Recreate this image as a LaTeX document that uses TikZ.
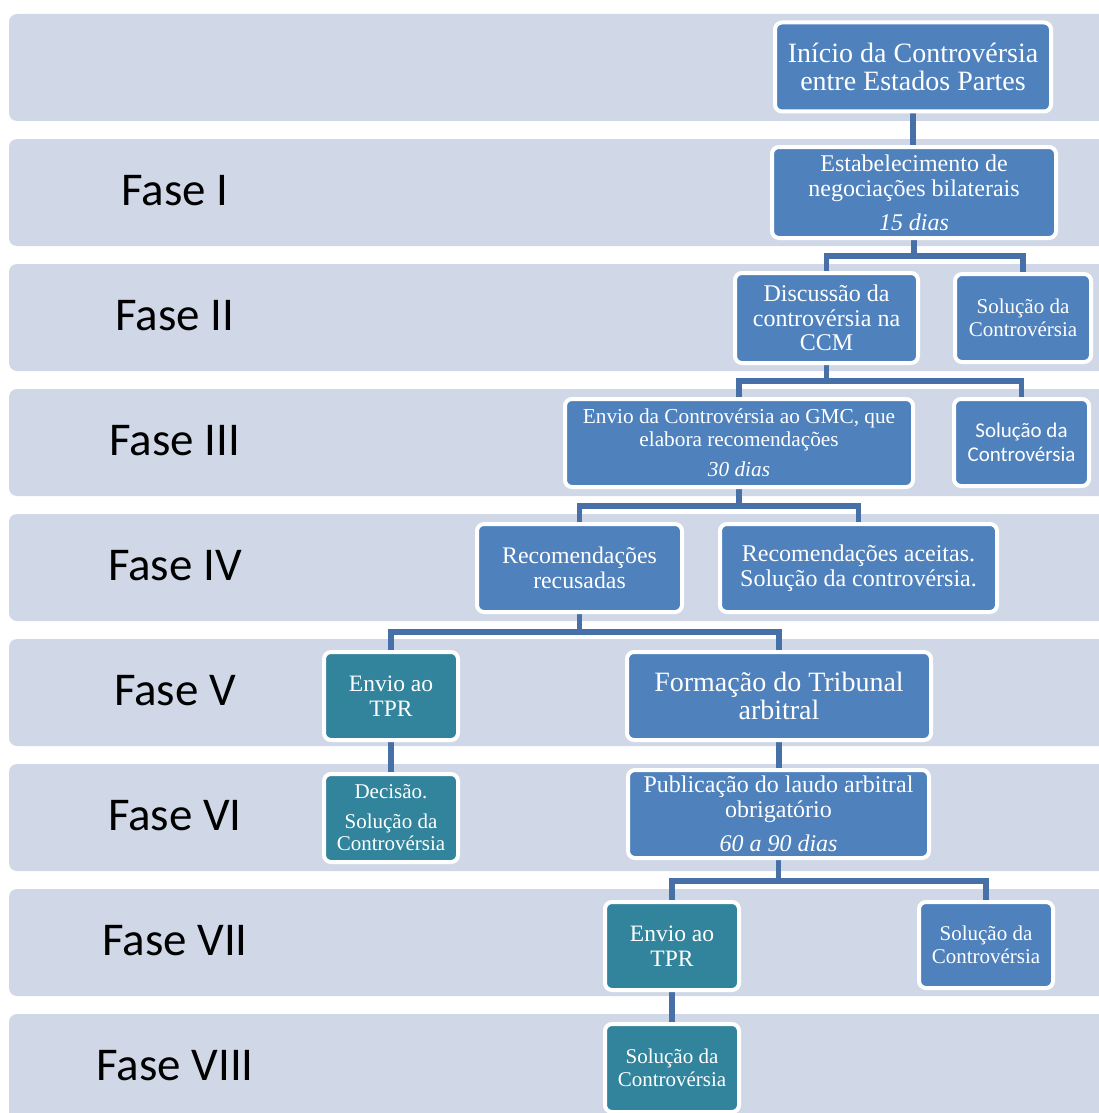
\documentclass[tikz,border=0pt]{standalone}
\usepackage{fontspec}
\setmainfont{Liberation Serif}
\newfontfamily\labelfont{Carlito}
\usetikzlibrary{backgrounds}

\definecolor{bandfill}{RGB}{208,216,232}
\definecolor{stepblue}{RGB}{79,129,189}
\definecolor{stepteal}{RGB}{49,132,155}
\definecolor{linkblue}{RGB}{72,112,168}

\pgfdeclarelayer{bands}
\pgfsetlayers{bands,background,main}

\begin{document}
\begin{tikzpicture}[x=1pt,y=-1pt,
  band/.style={fill=bandfill, rounded corners=8pt},
  faselabel/.style={font=\labelfont\fontsize{47}{50}\selectfont, text=black, inner sep=0pt},
  box/.style={fill=stepblue, draw=white, line width=4pt, rounded corners=7pt,
              text=white, align=center, inner sep=0pt},
  tealbox/.style={box, fill=stepteal},
  sz/.style 2 args={font=\fontsize{#1}{#2}\selectfont},
  conn/.style={draw=linkblue, line width=5.5pt}
]
\useasboundingbox (0,0) rectangle (1099,1113);

% phase bands
\begin{pgfonlayer}{bands}
  \foreach \i in {0,...,8}
    \fill[band] (9,{14+125*\i}) rectangle (1130,{121+125*\i});
\end{pgfonlayer}

% phase labels
\node[faselabel] (f1) at (175,191) {Fase I};
\node[faselabel] (f2) at (175,316) {Fase II};
\node[faselabel] (f3) at (175,441) {Fase III};
\node[faselabel] (f4) at (175,566) {Fase IV};
\node[faselabel] (f5) at (175,691) {Fase V};
\node[faselabel] (f6) at (175,816) {Fase VI};
\node[faselabel] (f7) at (175,941) {Fase VII};
\node[faselabel] (f8) at (175,1066) {Fase VIII};

% steps
\node[box, sz={28}{28}, minimum width=276pt, minimum height=89pt] (inicio) at (913,67)
  {Início da Controvérsia\\entre Estados Partes};
\node[box, sz={24}{25}, minimum width=284pt, minimum height=91pt] (estab) at (914,192.5)
  {Estabelecimento de\\negociações bilaterais\\[9pt]\textit{15 dias}};
\node[box, sz={24}{24.5}, minimum width=183pt, minimum height=90pt] (disc) at (826.5,318)
  {Discussão da\\controvérsia na\\CCM};
\node[box, sz={21}{23}, minimum width=136pt, minimum height=88pt] (sol2) at (1023,318)
  {Solução da\\Controvérsia};
\node[box, sz={21.3}{23}, minimum width=348pt, minimum height=88pt] (gmc) at (739,443)
  {Envio da Controvérsia ao GMC, que\\elabora recomendações\\[7pt]\textit{30 dias}};
\node[box, font=\labelfont\fontsize{21}{24}\selectfont, minimum width=135pt, minimum height=87pt] (sol3) at (1021.5,442.5)
  {Solução da\\Controvérsia};
\node[box, sz={23.8}{25}, minimum width=205pt, minimum height=88pt] (recus) at (579.5,568)
  {Recomendações\\recusadas};
\node[box, sz={24}{25}, minimum width=277pt, minimum height=88pt] (aceit) at (858.5,568)
  {Recomendações aceitas.\\Solução da controvérsia.};
\node[tealbox, sz={23.5}{25}, minimum width=134pt, minimum height=88pt] (tpra) at (391,696)
  {Envio ao\\TPR};
\node[box, sz={28}{28}, minimum width=304pt, minimum height=88pt] (form) at (779,696)
  {Formação do Tribunal\\arbitral};
\node[tealbox, sz={21}{22}, minimum width=134pt, minimum height=88pt] (decis) at (391,818)
  {Decisão.\\[8pt]Solução da\\Controvérsia};
\node[box, sz={24}{25}, minimum width=301pt, minimum height=88pt] (publ) at (778.5,814)
  {Publicação do laudo arbitral\\obrigatório\\[9pt]\textit{60 a 90 dias}};
\node[tealbox, sz={23.5}{25}, minimum width=134pt, minimum height=88pt] (tprb) at (672,946)
  {Envio ao\\TPR};
\node[box, sz={21}{23}, minimum width=134pt, minimum height=86pt] (sol7) at (986,945)
  {Solução da\\Controvérsia};
\node[tealbox, sz={21}{23}, minimum width=134pt, minimum height=88pt] (sol8) at (672,1068)
  {Solução da\\Controvérsia};

% junction levels of the branching connectors
\coordinate (j2) at (0,256);
\coordinate (j3) at (0,381);
\coordinate (j4) at (0,506);
\coordinate (j5) at (0,632);
\coordinate (j7) at (0,881);

% connectors
\begin{pgfonlayer}{background}
  \draw[conn] (inicio.south) -- (inicio.south |- estab.north);
  \draw[conn] (estab.south) -- (estab.south |- j2) -| (disc.north);
  \draw[conn] (estab.south) -- (estab.south |- j2) -| (sol2.north);
  \draw[conn] (disc.south) -- (disc.south |- j3) -| (gmc.north);
  \draw[conn] (disc.south) -- (disc.south |- j3) -| (sol3.north);
  \draw[conn] (gmc.south) -- (gmc.south |- j4) -| (recus.north);
  \draw[conn] (gmc.south) -- (gmc.south |- j4) -| (aceit.north);
  \draw[conn] (recus.south) -- (recus.south |- j5) -| (tpra.north);
  \draw[conn] (recus.south) -- (recus.south |- j5) -| (form.north);
  \draw[conn] (tpra.south) -- (tpra.south |- decis.north);
  \draw[conn] (form.south) -- (form.south |- publ.north);
  \draw[conn] (publ.south) -- (publ.south |- j7) -| (tprb.north);
  \draw[conn] (publ.south) -- (publ.south |- j7) -| (sol7.north);
  \draw[conn] (tprb.south) -- (tprb.south |- sol8.north);
\end{pgfonlayer}
\end{tikzpicture}
\end{document}
